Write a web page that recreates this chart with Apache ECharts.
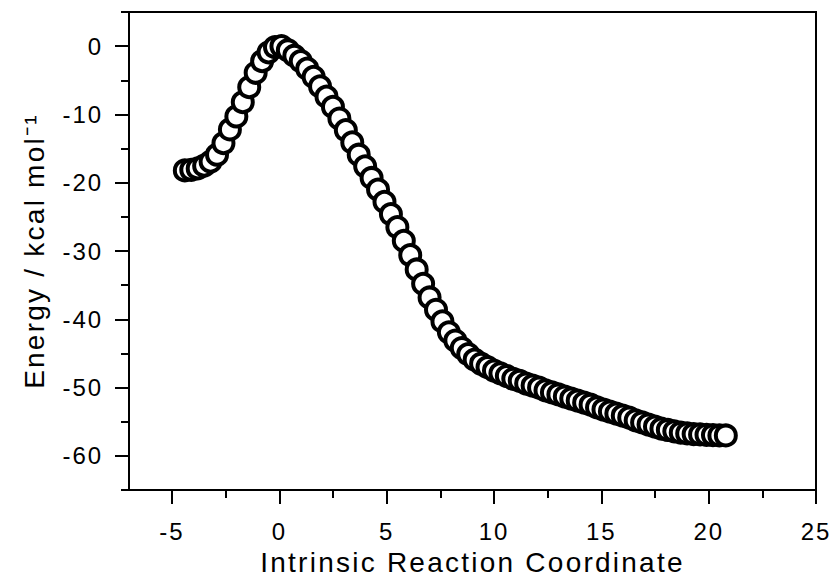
<!DOCTYPE html>
<html>
<head>
<meta charset="utf-8">
<script src="https://cdn.jsdelivr.net/npm/echarts@6/dist/echarts.min.js"></script>
<style>
  html, body { margin: 0; padding: 0; background: #fff; }
  #chart { width: 835px; height: 581px; }
  /* slightly open tracking for all chart text */
  #chart svg text { letter-spacing: 0.08em; }
</style>
</head>
<body>
<div id="chart"></div>
<script>
// IRC path: reaction coordinate and relative energy (kcal/mol)
const ircCoord = [
  -4.4, -4.1, -3.8, -3.5, -3.2, -2.9, -2.6, -2.3, -2.0, -1.7,
  -1.4, -1.1, -0.8, -0.5, -0.2, 0.1, 0.4, 0.7, 1.0, 1.3,
  1.6, 1.9, 2.2, 2.5, 2.8, 3.1, 3.4, 3.7, 4.0, 4.3,
  4.6, 4.9, 5.2, 5.5, 5.8, 6.1, 6.4, 6.7, 7.0, 7.3,
  7.6, 7.9, 8.2, 8.5, 8.8, 9.1, 9.4, 9.7, 10.0, 10.3,
  10.6, 10.9, 11.2, 11.5, 11.8, 12.1, 12.4, 12.7, 13.0, 13.3,
  13.6, 13.9, 14.2, 14.5, 14.8, 15.1, 15.4, 15.7, 16.0, 16.3,
  16.6, 16.9, 17.2, 17.5, 17.8, 18.1, 18.4, 18.7, 19.0, 19.3,
  19.6, 19.9, 20.2, 20.5, 20.8
];
const energy = [
  -18.2, -18.1, -17.9, -17.5, -16.9, -15.9, -14.2, -12.2, -10.3, -8.2,
  -6.0, -3.9, -2.2, -0.9, -0.15, 0.0, -0.6, -1.4, -2.2, -3.3,
  -4.5, -5.9, -7.4, -8.9, -10.6, -12.3, -14.1, -15.9, -17.6, -19.3,
  -21.0, -22.8, -24.6, -26.5, -28.5, -30.6, -32.7, -34.8, -36.8, -38.6,
  -40.3, -41.9, -43.1, -44.2, -45.1, -45.9, -46.5, -47.0, -47.5, -47.9,
  -48.3, -48.7, -49.0, -49.4, -49.7, -50.0, -50.4, -50.7, -51.0, -51.3,
  -51.6, -51.9, -52.2, -52.5, -52.9, -53.2, -53.5, -53.8, -54.1, -54.4,
  -54.8, -55.1, -55.4, -55.7, -56.0, -56.2, -56.4, -56.6, -56.7, -56.8,
  -56.85, -56.9, -56.95, -57.0, -57.0
];

// Axis ticks
const xMajorTicks = [-5, 0, 5, 10, 15, 20, 25];
const xMinorTicks = [-2.5, 2.5, 7.5, 12.5, 17.5, 22.5];
const yMajorTicks = [-60, -50, -40, -30, -20, -10, 0];
const yMinorTicks = [-65, -55, -45, -35, -25, -15, -5, 5];

const FONT = 'Liberation Sans, Arial, sans-serif';
const xRange = { min: -7, max: 25 };
const yRange = { min: -65, max: 5 };

const lineStyle = { color: '#000', width: 2 };
const tickFont = { color: '#000', fontSize: 24, fontFamily: FONT };

function axisDef(range, pos, ticks, len, withLine, withLabels, margin) {
  return {
    type: 'value', position: pos, gridIndex: 0,
    min: range.min, max: range.max,
    axisLine: { show: withLine, onZero: false, lineStyle },
    axisTick: { show: true, inside: false, length: len, customValues: ticks, lineStyle },
    axisLabel: withLabels
      ? Object.assign({ show: true, customValues: ticks, margin }, tickFont)
      : { show: false },
    splitLine: { show: false }
  };
}

const xMain = axisDef(xRange, 'bottom', xMajorTicks, 14, true, true, 29);
xMain.name = 'Intrinsic Reaction Coordinate';
xMain.nameLocation = 'middle';
xMain.nameGap = 54;
xMain.nameTextStyle = { color: '#000', fontSize: 28, fontFamily: FONT };

const yMain = axisDef(yRange, 'left', yMajorTicks, 14, true, true, 26);
yMain.name = 'Energy / kcal mol\u207B\u00B9';
yMain.nameLocation = 'middle';
yMain.nameGap = 81;
yMain.nameTextStyle = { color: '#000', fontSize: 28, fontFamily: FONT };

const chart = echarts.init(document.getElementById('chart'), null, { renderer: 'svg' });
chart.setOption({
  backgroundColor: '#fff',
  animation: false,
  grid: {
    left: 129, right: 19, top: 12, bottom: 86,
    show: true, borderColor: '#000', borderWidth: 2, backgroundColor: 'transparent'
  },
  xAxis: [xMain, axisDef(xRange, 'bottom', xMinorTicks, 8, false, false, 0)],
  yAxis: [yMain, axisDef(yRange, 'left', yMinorTicks, 8, false, false, 0)],
  series: [{
    type: 'scatter',
    xAxisIndex: 0, yAxisIndex: 0,
    data: ircCoord.map((x, i) => [x, energy[i]]),
    symbol: 'circle',
    symbolSize: 20,
    itemStyle: { color: '#fff', borderColor: '#000', borderWidth: 4, opacity: 1 },
    emphasis: { disabled: true }
  }]
});
</script>
</body>
</html>
